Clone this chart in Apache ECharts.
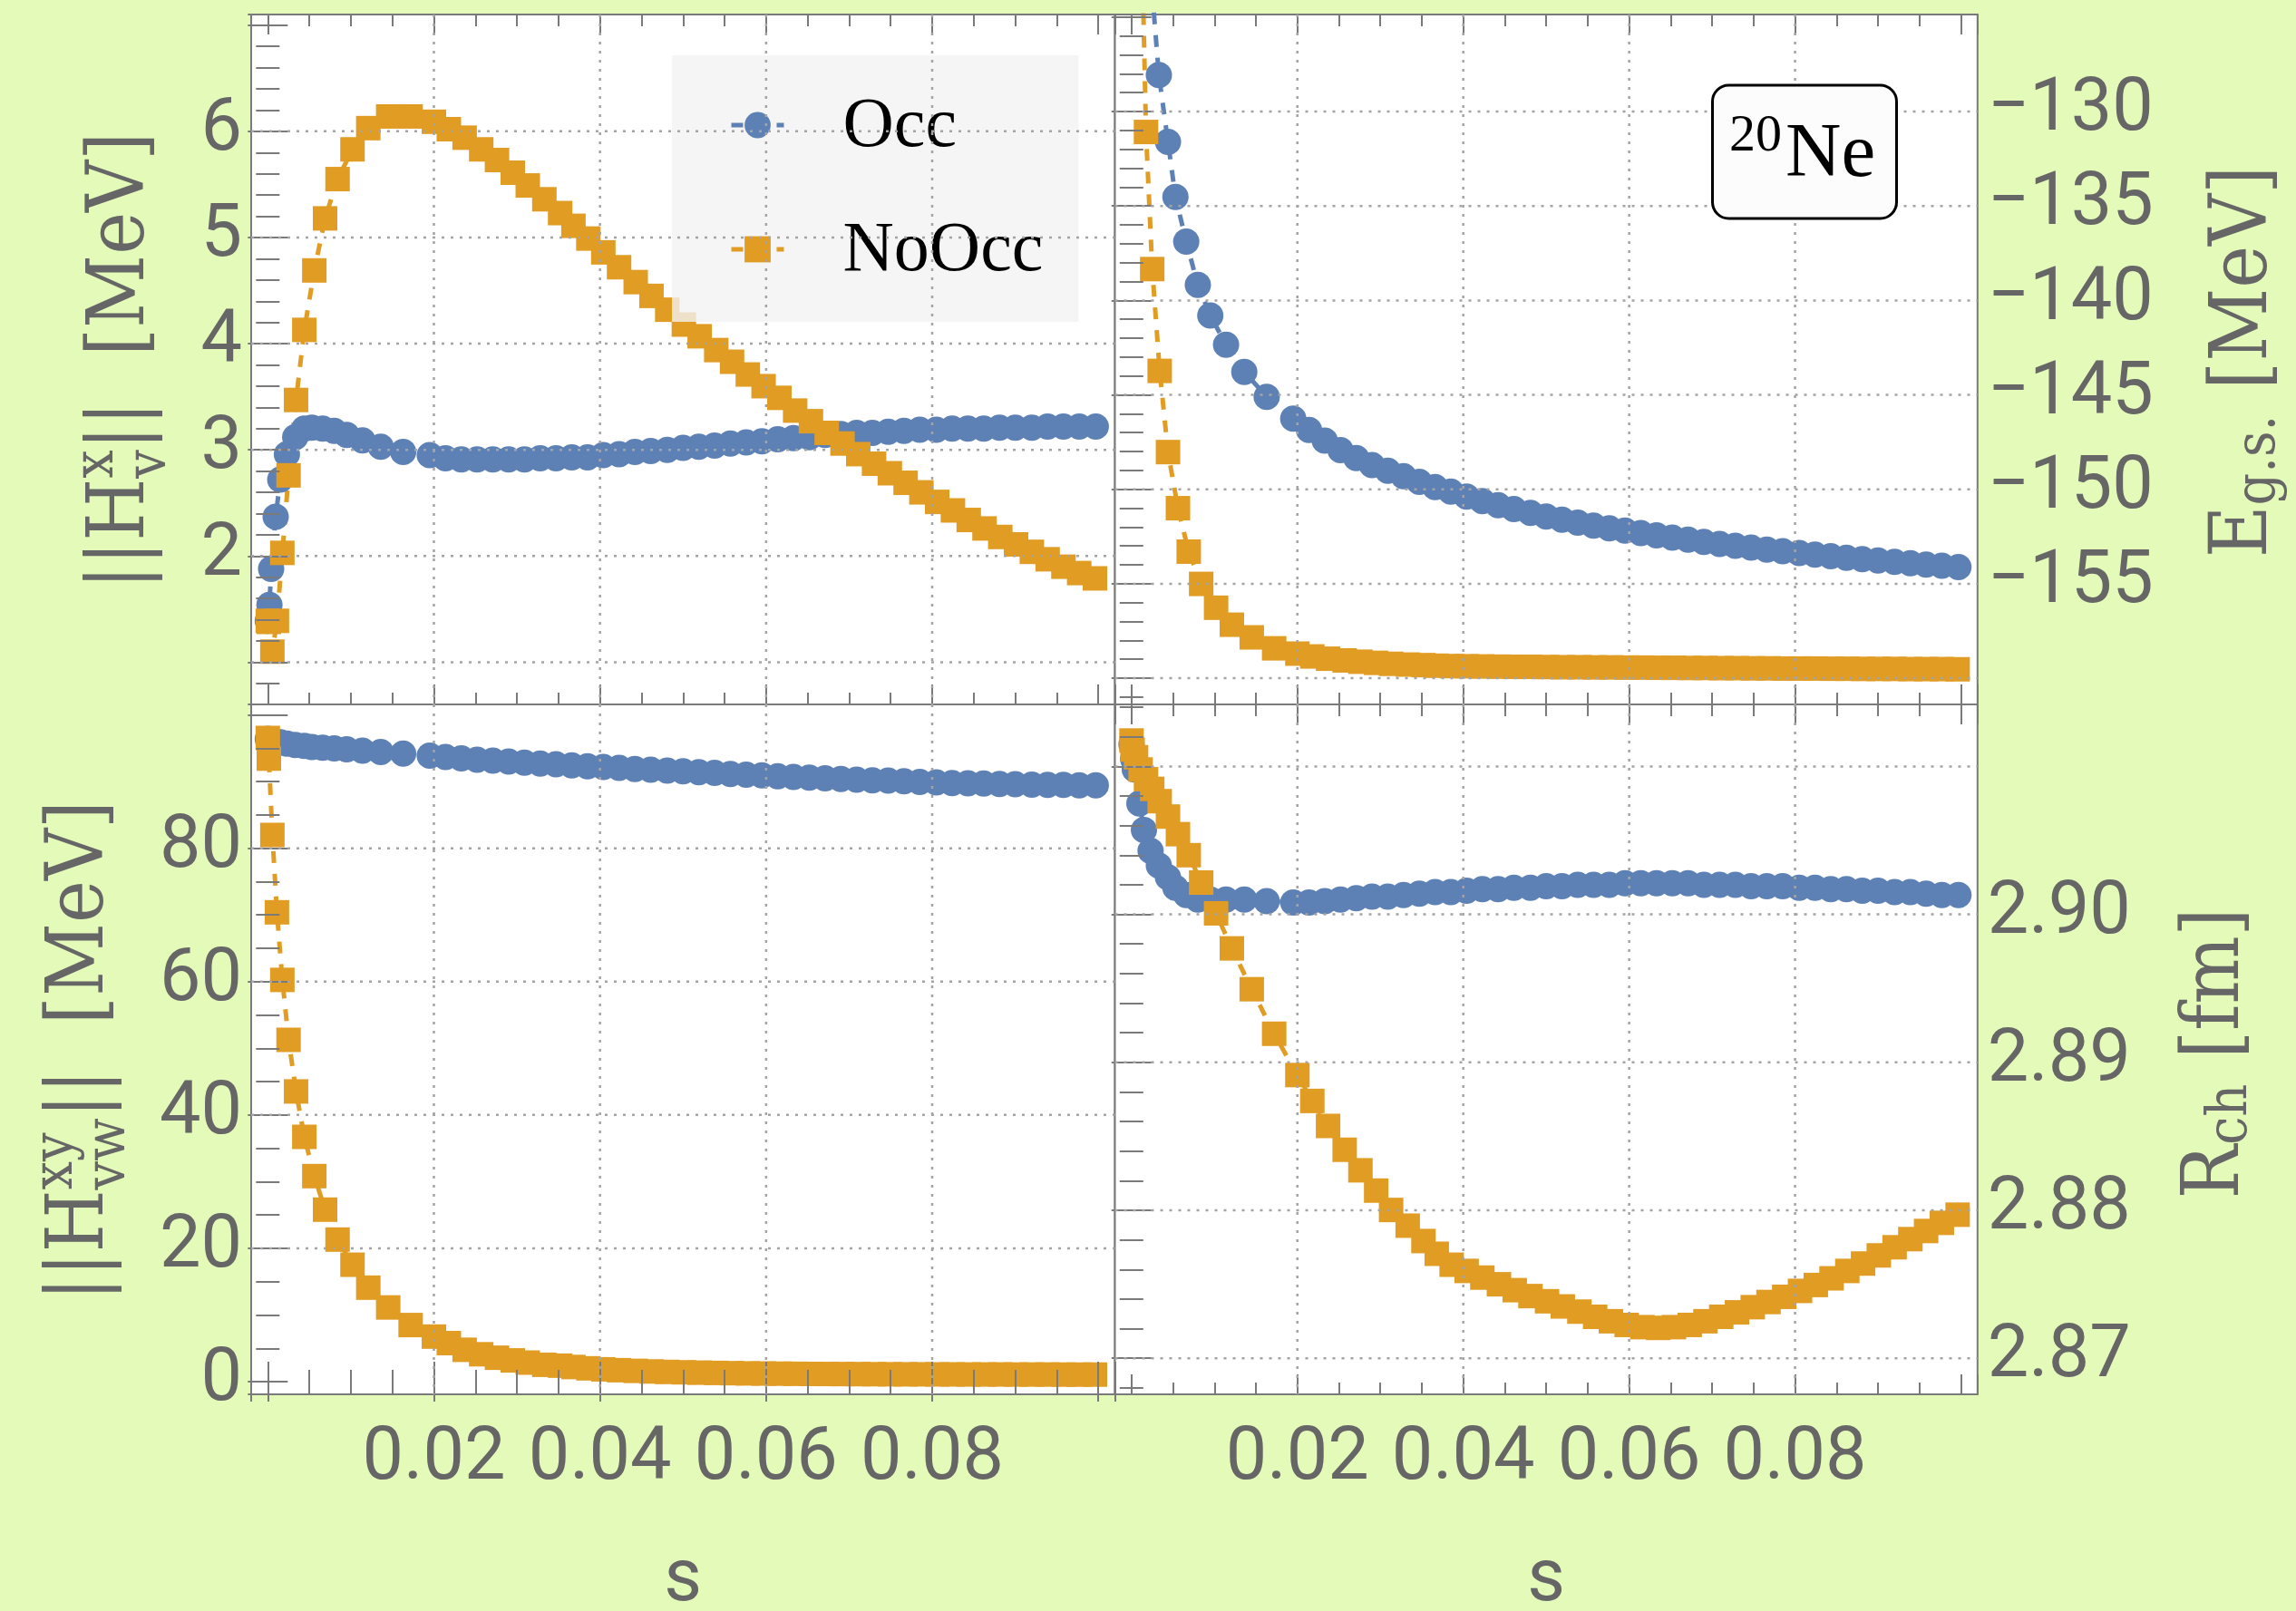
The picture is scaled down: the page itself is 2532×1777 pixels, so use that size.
<!DOCTYPE html>
<html>
<head>
<meta charset="utf-8">
<script src="https://cdn.jsdelivr.net/npm/echarts@6/dist/echarts.min.js"></script>
<style>
  html, body { margin: 0; padding: 0; background: #e3fab8; }
  #chart { width: 2532px; height: 1777px; }
</style>
</head>
<body>
<div id="chart"></div>
<script>
// Flow parameter s at which each run was sampled
const sOcc = [0, 0.0002, 0.0004, 0.00095, 0.0015, 0.0023, 0.0033, 0.0044, 0.0053, 0.0066, 0.0080, 0.0095, 0.0114, 0.0136, 0.0163, 0.0195,
  0.0214, 0.0233, 0.0252, 0.0271, 0.0290, 0.0309, 0.0328, 0.0347, 0.0366, 0.0385, 0.0404, 0.0423, 0.0442, 0.0461, 0.0481, 0.0500,
  0.0519, 0.0538, 0.0557, 0.0576, 0.0595, 0.0614, 0.0633, 0.0652, 0.0671, 0.0690, 0.0709, 0.0728, 0.0747, 0.0766, 0.0785, 0.0805,
  0.0824, 0.0843, 0.0862, 0.0881, 0.0900, 0.0920, 0.0939, 0.0958, 0.0977, 0.0997];
const sNoOcc = [0, 0.00013, 0.00055, 0.0011, 0.00175, 0.0025, 0.0034, 0.0044, 0.0056, 0.0069, 0.0084, 0.0102, 0.0121, 0.0145, 0.0172, 0.0200,
  0.0218, 0.0237, 0.0257, 0.0276, 0.0295, 0.0313, 0.0333, 0.0352, 0.0368, 0.0386, 0.0404, 0.0423, 0.0443, 0.0462, 0.0481, 0.0501,
  0.0520, 0.0540, 0.0559, 0.0578, 0.0597, 0.0616, 0.0635, 0.0654, 0.0673, 0.0692, 0.0711, 0.0730, 0.0749, 0.0768, 0.0787, 0.0806,
  0.0825, 0.0844, 0.0863, 0.0882, 0.0901, 0.0920, 0.0939, 0.0958, 0.0977, 0.0996];

// ||H_v^x|| [MeV]
const hvOcc = [1.39, 1.54, 1.88, 2.37, 2.72, 2.96, 3.12, 3.20, 3.21, 3.20, 3.18, 3.14, 3.09, 3.03, 2.98, 2.95,
  2.92, 2.91, 2.91, 2.91, 2.91, 2.91, 2.92, 2.92, 2.93, 2.93, 2.95, 2.96, 2.98, 2.99, 3.00, 3.02,
  3.03, 3.04, 3.06, 3.07, 3.08, 3.10, 3.11, 3.12, 3.14, 3.15, 3.16, 3.16, 3.17, 3.18, 3.19, 3.19,
  3.20, 3.20, 3.20, 3.21, 3.21, 3.21, 3.22, 3.22, 3.22, 3.22];
const hvNoOcc = [1.39, 1.38, 1.10, 1.39, 2.03, 2.76, 3.47, 4.13, 4.69, 5.18, 5.55, 5.83, 6.03, 6.14, 6.14, 6.09,
  6.02, 5.94, 5.83, 5.73, 5.61, 5.49, 5.36, 5.23, 5.11, 4.99, 4.86, 4.72, 4.58, 4.45, 4.32, 4.18,
  4.07, 3.94, 3.83, 3.71, 3.60, 3.49, 3.37, 3.27, 3.16, 3.06, 2.96, 2.87, 2.78, 2.69, 2.60, 2.51,
  2.43, 2.34, 2.26, 2.18, 2.11, 2.04, 1.97, 1.90, 1.84, 1.79];

// E_g.s. [MeV]
const egsOcc = [-108.0, -110.0, -112.0, -116.0, -119.5, -122.6, -128.06, -131.61, -134.52, -136.88, -139.18, -140.80, -142.34, -143.78, -145.10, -146.26,
  -146.86, -147.42, -147.92, -148.35, -148.72, -149.02, -149.31, -149.60, -149.88, -150.12, -150.38, -150.62, -150.84, -151.05, -151.25, -151.44,
  -151.61, -151.77, -151.92, -152.06, -152.19, -152.32, -152.44, -152.56, -152.67, -152.78, -152.89, -152.99, -153.09, -153.19, -153.28, -153.37,
  -153.46, -153.54, -153.62, -153.70, -153.77, -153.84, -153.91, -153.98, -154.05, -154.12];
const egsNoOcc = [-108.0, -109.0, -113.0, -118.0, -131.08, -138.34, -143.73, -148.03, -151.0, -153.3, -155.01, -156.27, -157.17, -157.84, -158.42, -158.70,
  -158.85, -158.97, -159.06, -159.13, -159.19, -159.24, -159.28, -159.31, -159.34, -159.36, -159.37, -159.38, -159.39, -159.40, -159.40, -159.41,
  -159.42, -159.42, -159.43, -159.43, -159.44, -159.44, -159.45, -159.45, -159.46, -159.46, -159.47, -159.47, -159.48, -159.48, -159.49, -159.49,
  -159.49, -159.50, -159.50, -159.51, -159.51, -159.51, -159.52, -159.52, -159.52, -159.53];

// ||H_vw^xy|| [MeV]
const hvwOcc = [96.4, 96.3, 96.2, 96.0, 95.9, 95.7, 95.5, 95.35, 95.2, 95.1, 95.0, 94.85, 94.65, 94.45, 94.2, 93.9,
  93.7, 93.5, 93.3, 93.15, 93.0, 92.85, 92.7, 92.6, 92.45, 92.3, 92.2, 92.05, 91.9, 91.8, 91.65, 91.55,
  91.4, 91.3, 91.15, 91.05, 90.95, 90.8, 90.7, 90.6, 90.5, 90.4, 90.3, 90.2, 90.15, 90.05, 89.95, 89.9,
  89.8, 89.75, 89.7, 89.65, 89.6, 89.55, 89.5, 89.5, 89.45, 89.45];
const hvwNoOcc = [96.55, 93.45, 82.0, 70.4, 60.26, 51.27, 43.53, 36.72, 30.83, 25.8, 21.31, 17.54, 14.1, 11.13, 8.49, 6.76,
  5.78, 4.78, 4.11, 3.59, 3.19, 2.86, 2.53, 2.4, 2.2, 2.0, 1.85, 1.72, 1.62, 1.53, 1.46, 1.40,
  1.35, 1.31, 1.27, 1.24, 1.22, 1.20, 1.18, 1.16, 1.15, 1.14, 1.13, 1.12, 1.11, 1.10, 1.10, 1.09,
  1.09, 1.08, 1.08, 1.08, 1.07, 1.07, 1.07, 1.06, 1.06, 1.06];

// R_ch [fm]
const rchOcc = [2.9115, 2.9105, 2.9098, 2.9075, 2.9057, 2.9043, 2.9033, 2.9025, 2.9018, 2.9013, 2.9010, 2.9010, 2.9010, 2.9010, 2.9009, 2.9008,
  2.9008, 2.9009, 2.9010, 2.9011, 2.9012, 2.9012, 2.9013, 2.9014, 2.9015, 2.9015, 2.9016, 2.9017, 2.9017, 2.9018, 2.9018, 2.9019,
  2.9019, 2.9020, 2.9020, 2.9020, 2.9021, 2.9021, 2.9021, 2.9021, 2.9021, 2.9020, 2.9020, 2.9020, 2.9019, 2.9019, 2.9019, 2.9018,
  2.9018, 2.9017, 2.9017, 2.9016, 2.9016, 2.9015, 2.9015, 2.9014, 2.9013, 2.9013];
const rchNoOcc = [2.91175, 2.91114, 2.91062, 2.90979, 2.90914, 2.90848, 2.90765, 2.90661, 2.90542, 2.90400, 2.90215, 2.90007, 2.89770, 2.89494, 2.89193, 2.88914,
  2.88739, 2.88570, 2.88409, 2.88270, 2.88133, 2.88002, 2.87896, 2.87792, 2.87706, 2.87632, 2.87590, 2.87545, 2.87500, 2.87460, 2.87420, 2.87385,
  2.87350, 2.87315, 2.87280, 2.87250, 2.87225, 2.87210, 2.87205, 2.87210, 2.87225, 2.87250, 2.87280, 2.87310, 2.87345, 2.87380, 2.87415, 2.87455,
  2.87495, 2.87540, 2.87590, 2.87640, 2.87695, 2.87750, 2.87805, 2.87860, 2.87915, 2.87970];

// Tick labels and grid lines
const sTickLabels = [0.02, 0.04, 0.06, 0.08];
const sGridLines = [0.02, 0.04, 0.06, 0.08];
const hvTickLabels = [2, 3, 4, 5, 6];
const hvGridLines = [1, 2, 3, 4, 5, 6];
const egsTickLabels = [-155, -150, -145, -140, -135, -130];
const egsGridLines = [-160, -155, -150, -145, -140, -135, -130];
const hvwTickLabels = [0, 20, 40, 60, 80];
const hvwGridLines = [20, 40, 60, 80];
const rchTickLabels = [2.87, 2.88, 2.89, 2.90];
const rchGridLines = [2.87, 2.88, 2.89, 2.90, 2.91];

const seriesNames = ['Occ', 'NoOcc'];

// ---- styling ----
const BLUE = '#5e81b5';
const ORANGE = '#e19c24';
const FRAME = '#7a7a7a';
const LABEL_GRAY = '#666666';
const TICK_FONT = 'Roboto';
const TITLE_FONT = "'DejaVu Serif Condensed', 'DejaVu Serif', serif";
const TITLE_SIZE = 88;
const LINE_DASH = [13, 12];

const sRange = { min: -0.002, max: 0.102, step: 0.02, minor: 4 };

const panels = [
  { box: { left: 277, top: 16, width: 952.5, height: 761 },
    y: { min: 0.603, max: 7.10, step: 1, minor: 5 }, side: 'left', showS: false,
    yLabels: hvTickLabels, yGrid: hvGridLines, fmt: v => String(v),
    occ: hvOcc, noOcc: hvNoOcc },
  { box: { left: 1229.5, top: 16, width: 951.3, height: 761 },
    y: { min: -161.39, max: -124.86, step: 5, minor: 5 }, side: 'right', showS: false,
    yLabels: egsTickLabels, yGrid: egsGridLines, fmt: v => '\u2212' + Math.abs(v),
    occ: egsOcc, noOcc: egsNoOcc },
  { box: { left: 277, top: 777, width: 952.5, height: 761 },
    y: { min: -1.90, max: 101.58, step: 20, minor: 4 }, side: 'left', showS: true,
    yLabels: hvwTickLabels, yGrid: hvwGridLines, fmt: v => String(v),
    occ: hvwOcc, noOcc: hvwNoOcc },
  { box: { left: 1229.5, top: 777, width: 951.3, height: 761 },
    y: { min: 2.86756, max: 2.91419, step: 0.01, minor: 5 }, side: 'right', showS: true,
    yLabels: rchTickLabels, yGrid: rchGridLines, fmt: v => v.toFixed(2),
    occ: rchOcc, noOcc: rchNoOcc }
];

function pairs(xs, ys) { return xs.map((x, i) => [x, ys[i]]); }

function pickLabel(list, value, step, fmt) {
  const hit = list.find(l => Math.abs(l - value) < step * 1e-4);
  return hit === undefined ? '' : fmt(hit);
}

const tickStyle = { color: FRAME, width: 2 };

function axisBase(range, gridIndex, position) {
  return {
    type: 'value', gridIndex, position,
    min: range.min, max: range.max,
    minInterval: range.step, maxInterval: range.step,
    z: 3,
    axisLine: { show: false },
    splitLine: { show: false },
    minorSplitLine: { show: false },
    axisTick: { show: true, inside: true, length: 22, lineStyle: tickStyle },
    minorTick: { show: true, splitNumber: range.minor, length: 13, lineStyle: tickStyle },
    axisLabel: { show: false }
  };
}

const labelText = { fontFamily: TICK_FONT, fontSize: 81, color: LABEL_GRAY };

const grids = [], xAxes = [], yAxes = [], series = [];

panels.forEach((p, g) => {
  grids.push(Object.assign({ show: true, backgroundColor: '#ffffff', borderColor: FRAME, borderWidth: 2,
    containLabel: false, outerBoundsMode: 'none' }, p.box));

  const xb = axisBase(sRange, g, 'bottom');
  if (p.showS) {
    xb.axisLabel = Object.assign({ show: true, margin: 32,
      formatter: v => pickLabel(sTickLabels, v, sRange.step, t => t.toFixed(2)) }, labelText);
    xb.name = 's';
    xb.nameLocation = 'middle';
    xb.nameGap = 166;
    xb.nameTextStyle = { fontFamily: TICK_FONT, fontSize: 81, color: LABEL_GRAY };
  }
  xAxes.push(xb);
  xAxes.push(axisBase(sRange, g, 'top'));

  const yl = axisBase(p.y, g, 'left');
  const yr = axisBase(p.y, g, 'right');
  const labelled = p.side === 'left' ? yl : yr;
  labelled.axisLabel = Object.assign({ show: true, margin: p.side === 'left' ? 10 : 11,
    padding: [p.side === 'left' ? 14 : 24, 0, 0, 0],
    formatter: v => pickLabel(p.yLabels, v, p.y.step, p.fmt) }, labelText);
  yAxes.push(yl, yr);

  const common = {
    type: 'line', xAxisIndex: 2 * g, yAxisIndex: 2 * g,
    showAllSymbol: true, clip: true, animation: false, z: 2,
    emphasis: { disabled: true }
  };
  series.push(Object.assign({}, common, {
    name: seriesNames[0], data: pairs(sOcc, p.occ),
    symbol: 'circle', symbolSize: 29,
    itemStyle: { color: BLUE, borderWidth: 0 },
    lineStyle: { color: BLUE, width: 5, type: LINE_DASH }
  }));
  series.push(Object.assign({}, common, {
    name: seriesNames[1], data: pairs(sNoOcc, p.noOcc),
    symbol: 'rect', symbolSize: 27,
    itemStyle: { color: ORANGE, borderWidth: 0 },
    lineStyle: { color: ORANGE, width: 5, type: LINE_DASH }
  }));

  // dotted grid lines, drawn above the markers
  const midS = (sRange.min + sRange.max) / 2;
  const midY = (p.y.min + p.y.max) / 2;
  series.push({
    type: 'custom', xAxisIndex: 2 * g, yAxisIndex: 2 * g, z: 5, silent: true, animation: false,
    data: sGridLines.map(v => [0, v]).concat(p.yGrid.map(v => [1, v])),
    renderItem: (params, api) => {
      const cs = params.coordSys;
      const kind = api.value(0), v = api.value(1);
      let shape;
      if (kind === 0) {
        const x = api.coord([v, midY])[0];
        shape = { x1: x, y1: cs.y, x2: x, y2: cs.y + cs.height };
      } else {
        const y = api.coord([midS, v])[1];
        shape = { x1: cs.x, y1: y, x2: cs.x + cs.width, y2: y };
      }
      return { type: 'line', shape, silent: true,
        style: { stroke: '#a4a4a4', lineWidth: 2.5, lineDash: [3, 7] } };
    }
  });
});

// ---- rotated axis titles with super/subscripts ----
const measureCtx = document.createElement('canvas').getContext('2d');
function textWidth(t, size) {
  measureCtx.font = size + 'px ' + TITLE_FONT;
  return measureCtx.measureText(t).width;
}
function axisTitle(cx, cy, pieces) {
  const F = TITLE_SIZE, f = Math.round(F * 0.7);
  const widths = pieces.map(pc => {
    if (pc.gap) return pc.gap;
    if (pc.t) return textWidth(pc.t, F);
    return Math.max(pc.sup ? textWidth(pc.sup, f) : 0, pc.sub ? textWidth(pc.sub, f) : 0);
  });
  const total = widths.reduce((a, b) => a + b, 0);
  let x = -total / 2;
  const children = [];
  const mk = (text, px, py, size) => ({
    type: 'text', silent: true,
    style: { text, x: px, y: py, font: size + 'px ' + TITLE_FONT, fill: LABEL_GRAY,
      align: 'left', verticalAlign: 'middle', textAlign: 'left', textVerticalAlign: 'middle' }
  });
  pieces.forEach((pc, i) => {
    if (pc.t) children.push(mk(pc.t, x, 0, F));
    if (pc.sup) children.push(mk(pc.sup, x, -0.306 * F, f));
    // a lone subscript sits only slightly below the baseline; stacked ones drop further
    if (pc.sub) children.push(mk(pc.sub, x, pc.sup ? 0.354 * F : 0.18 * F, f));
    x += widths[i];
  });
  return { type: 'group', x: cx, y: cy, rotation: Math.PI / 2, children, z: 10 };
}

const graphics = [
  axisTitle(135, 398, [{ t: '||H' }, { sup: 'x', sub: 'v' }, { t: '||' }, { gap: 50 }, { t: '[MeV]' }]),
  axisTitle(90, 1159, [{ t: '||H' }, { sup: 'xy', sub: 'vw' }, { t: '||' }, { gap: 50 }, { t: '[MeV]' }]),
  axisTitle(2476, 399, [{ t: 'E' }, { sub: 'g.s.' }, { gap: 28 }, { t: '[MeV]' }]),
  axisTitle(2445, 1162, [{ t: 'R' }, { sub: 'ch' }, { gap: 28 }, { t: '[fm]' }])
];

const legendFont = { fontFamily: 'Liberation Serif', fontSize: 78, color: '#000' };

const option = {
  backgroundColor: '#e3fab8',
  animation: false,
  grid: grids,
  xAxis: xAxes,
  yAxis: yAxes,
  series,
  legend: {
    data: seriesNames, orient: 'vertical', left: 741, top: 61,
    padding: [38, 39, 38, 63], itemGap: 56, itemWidth: 58, itemHeight: 36,
    backgroundColor: 'rgba(242,242,242,0.8)', selectedMode: false, z: 4,
    lineStyle: { width: 5, type: LINE_DASH },
    formatter: '{gap|}{n|{name}}',
    textStyle: Object.assign({}, legendFont, {
      rich: { gap: { width: 60 }, n: Object.assign({ padding: [6, 0, 0, 0] }, legendFont) } })
  },
  title: {
    text: '{m|20}{e|Ne}', left: 1888, top: 93.5, z: 6,
    padding: [28, 24, 27, 19],
    backgroundColor: '#fcfcfc', borderColor: '#000', borderWidth: 3, borderRadius: 18,
    textStyle: {
      fontWeight: 'normal',
      rich: {
        m: { fontFamily: 'Liberation Serif', fontSize: 58, fontWeight: 'normal', color: '#000',
             lineHeight: 44, verticalAlign: 'top', padding: [0, 4, 0, 0] },
        e: { fontFamily: 'Liberation Serif', fontSize: 85, fontWeight: 'normal', color: '#000', lineHeight: 100 }
      }
    }
  },
  graphic: graphics
};

const chart = echarts.init(document.getElementById('chart'), null, { renderer: 'canvas' });
chart.setOption(option);
</script>
</body>
</html>
